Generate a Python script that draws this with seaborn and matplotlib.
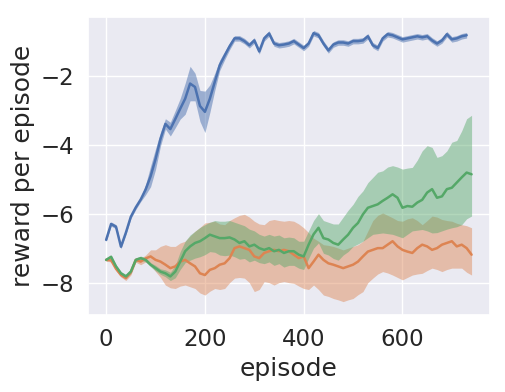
import numpy as np
import pandas as pd
import matplotlib
matplotlib.use("Agg")
import matplotlib.pyplot as plt
import seaborn as sns

# ---------------- data ----------------
blue_episodes = list(range(0, 731, 10))
other_episodes = list(range(0, 741, 10))

blue_mean = [-6.76, -6.3, -6.38, -6.96, -6.55, -6.09, -5.82, -5.59, -5.3, -4.92,
             -4.42, -3.84, -3.4, -3.55, -3.26, -2.96, -2.67, -2.23, -2.33, -2.88,
             -3.05, -2.67, -2.18, -1.7, -1.42, -1.15, -0.92, -0.92, -1.0, -1.12,
             -0.98, -1.3, -0.92, -0.78, -1.07, -1.12, -1.1, -1.07, -1.0, -1.1,
             -1.2, -1.07, -0.77, -0.83, -1.07, -1.27, -1.1, -1.04, -1.04, -1.07,
             -1.0, -1.0, -0.98, -0.86, -1.12, -1.2, -0.92, -0.8, -0.83, -0.89,
             -0.95, -0.92, -0.89, -0.86, -0.89, -0.86, -0.98, -1.07, -0.98, -0.8,
             -0.95, -0.92, -0.86, -0.83]
blue_halfwidth = [0.06, 0.06, 0.06, 0.06, 0.06, 0.06, 0.06, 0.06, 0.15, 0.3,
                  0.3, 0.2, 0.15, 0.2, 0.25, 0.3, 0.45, 0.5, 0.4, 0.45,
                  0.6, 0.4, 0.25, 0.15, 0.12, 0.1, 0.08, 0.08, 0.08, 0.08,
                  0.08, 0.08, 0.08, 0.08, 0.08, 0.08, 0.08, 0.08, 0.08, 0.08,
                  0.08, 0.08, 0.08, 0.08, 0.08, 0.08, 0.08, 0.08, 0.08, 0.08,
                  0.08, 0.08, 0.08, 0.08, 0.08, 0.08, 0.08, 0.08, 0.08, 0.08,
                  0.08, 0.08, 0.08, 0.08, 0.08, 0.08, 0.08, 0.08, 0.08, 0.08,
                  0.08, 0.08, 0.08, 0.08]

orange_mean = [-7.34, -7.35, -7.6, -7.78, -7.87, -7.7, -7.34, -7.39, -7.3, -7.24,
               -7.34, -7.39, -7.48, -7.58, -7.53, -7.39, -7.34, -7.44, -7.53, -7.73,
               -7.78, -7.63, -7.58, -7.48, -7.44, -7.29, -7.0, -6.95, -7.0, -7.05,
               -7.24, -7.29, -7.14, -7.09, -7.05, -7.09, -7.05, -7.09, -7.19, -7.29,
               -7.24, -7.58, -7.39, -7.19, -7.34, -7.44, -7.48, -7.53, -7.58, -7.53,
               -7.48, -7.39, -7.24, -7.1, -7.05, -7.0, -7.0, -6.9, -6.8, -6.95,
               -7.05, -7.1, -7.14, -7.0, -6.9, -6.95, -7.05, -7.0, -6.9, -6.85,
               -6.8, -6.95, -6.9, -7.0, -7.19]
orange_upper = [-7.3, -7.3, -7.55, -7.72, -7.8, -7.62, -7.27, -7.3, -7.2, -7.05,
                -7.05, -6.95, -6.9, -6.95, -6.95, -6.85, -6.8, -6.65, -6.51, -6.4,
                -6.27, -6.25, -6.22, -6.3, -6.32, -6.2, -6.12, -6.05, -6.02, -6.1,
                -6.22, -6.3, -6.32, -6.2, -6.17, -6.2, -6.22, -6.2, -6.22, -6.3,
                -6.41, -6.55, -6.71, -6.8, -6.9, -6.92, -6.95, -7.0, -7.05, -7.0,
                -6.95, -6.9, -6.8, -6.5, -6.2, -6.05, -5.98, -6.05, -6.12, -6.2,
                -6.22, -6.15, -6.12, -6.2, -6.32, -6.2, -6.07, -6.1, -6.17, -6.2,
                -6.22, -6.28, -6.32, -6.35, -6.41]
orange_lower = [-7.38, -7.4, -7.65, -7.84, -7.94, -7.78, -7.41, -7.48, -7.4, -7.5,
                -7.68, -7.85, -8.07, -8.15, -8.17, -8.1, -8.07, -8.12, -8.17, -8.3,
                -8.36, -8.25, -8.17, -8.2, -8.17, -8.0, -7.87, -7.85, -7.87, -8.0,
                -8.26, -8.2, -7.97, -8.0, -8.07, -8.0, -7.97, -8.0, -8.02, -8.1,
                -8.17, -8.2, -8.07, -8.2, -8.36, -8.4, -8.46, -8.5, -8.55, -8.5,
                -8.46, -8.35, -8.26, -8.0, -7.87, -7.75, -7.68, -7.72, -7.78, -7.85,
                -7.92, -7.85, -7.78, -7.75, -7.73, -7.65, -7.58, -7.62, -7.68, -7.62,
                -7.58, -7.58, -7.58, -7.7, -7.78]

green_mean = [-7.34, -7.25, -7.53, -7.73, -7.82, -7.68, -7.34, -7.29, -7.34, -7.48,
              -7.58, -7.68, -7.73, -7.82, -7.68, -7.39, -7.09, -6.95, -6.85, -6.8,
              -6.71, -6.61, -6.66, -6.71, -6.71, -6.69, -6.75, -6.85, -6.8, -6.95,
              -6.9, -7.0, -7.05, -7.0, -7.09, -7.05, -7.14, -7.09, -7.09, -7.19,
              -7.24, -6.9, -6.6, -6.41, -6.71, -6.75, -6.85, -6.9, -6.75, -6.61,
              -6.41, -6.27, -6.02, -5.83, -5.78, -5.73, -5.63, -5.54, -5.44, -5.54,
              -5.83, -5.78, -5.8, -5.68, -5.6, -5.39, -5.29, -5.54, -5.5, -5.29,
              -5.25, -5.1, -4.95, -4.81, -4.86]
green_upper = [-7.3, -7.2, -7.48, -7.68, -7.76, -7.62, -7.28, -7.23, -7.28, -7.42,
               -7.5, -7.6, -7.63, -7.7, -7.5, -7.1, -6.8, -6.62, -6.51, -6.4,
               -6.32, -6.25, -6.2, -6.22, -6.22, -6.2, -6.25, -6.3, -6.35, -6.45,
               -6.5, -6.6, -6.65, -6.6, -6.65, -6.62, -6.7, -6.68, -6.7, -6.8,
               -6.8, -6.5, -6.2, -6.0, -6.2, -6.25, -6.3, -6.3, -6.1, -5.9,
               -5.73, -5.5, -5.34, -5.1, -4.95, -4.8, -4.76, -4.65, -4.61, -4.65,
               -4.71, -4.68, -4.66, -4.45, -4.18, -4.03, -4.08, -4.37, -4.32, -4.18,
               -3.93, -3.88, -3.6, -3.25, -3.15]
green_lower = [-7.38, -7.3, -7.58, -7.78, -7.88, -7.74, -7.4, -7.35, -7.4, -7.54,
               -7.66, -7.76, -7.83, -7.94, -7.86, -7.62, -7.42, -7.35, -7.29, -7.25,
               -7.19, -7.1, -7.12, -7.2, -7.22, -7.2, -7.25, -7.32, -7.3, -7.4,
               -7.35, -7.42, -7.45, -7.4, -7.5, -7.45, -7.55, -7.5, -7.5, -7.58,
               -7.62, -7.3, -7.0, -6.85, -7.15, -7.2, -7.3, -7.35, -7.2, -7.1,
               -6.95, -6.88, -6.8, -6.7, -6.6, -6.58, -6.56, -6.58, -6.6, -6.65,
               -6.7, -6.6, -6.5, -6.48, -6.46, -6.5, -6.56, -6.55, -6.5, -6.45,
               -6.41, -6.38, -6.32, -6.15, -6.07]

# ---------------- plotting ----------------
sns.set_theme(style="darkgrid", font_scale=1.5)
palette = sns.color_palette("deep")
c_blue, c_orange, c_green = palette[0], palette[1], palette[2]

df = pd.concat([
    pd.DataFrame({"episode": blue_episodes, "reward": blue_mean, "run": "a"}),
    pd.DataFrame({"episode": other_episodes, "reward": orange_mean, "run": "b"}),
    pd.DataFrame({"episode": other_episodes, "reward": green_mean, "run": "c"}),
], ignore_index=True)

fig, ax = plt.subplots(figsize=(5.05, 3.92), dpi=100)
fig.subplots_adjust(left=0.174, right=0.970, top=0.957, bottom=0.196)

bm = np.array(blue_mean)
bw = np.array(blue_halfwidth)
ax.fill_between(blue_episodes, bm - bw, bm + bw, color=c_blue, alpha=0.5, linewidth=0)
ax.fill_between(other_episodes, orange_lower, orange_upper, color=c_orange, alpha=0.45, linewidth=0)
ax.fill_between(other_episodes, green_lower, green_upper, color=c_green, alpha=0.45, linewidth=0)

sns.lineplot(data=df, x="episode", y="reward", hue="run",
             palette=[c_blue, c_orange, c_green], errorbar=None,
             legend=False, linewidth=1.8, ax=ax)

ax.set_xlabel("episode")
ax.set_ylabel("reward per episode")
ax.set_xticks([0, 200, 400, 600])
ax.set_yticks([-8, -6, -4, -2])

fig.savefig("out.png", dpi=100)
